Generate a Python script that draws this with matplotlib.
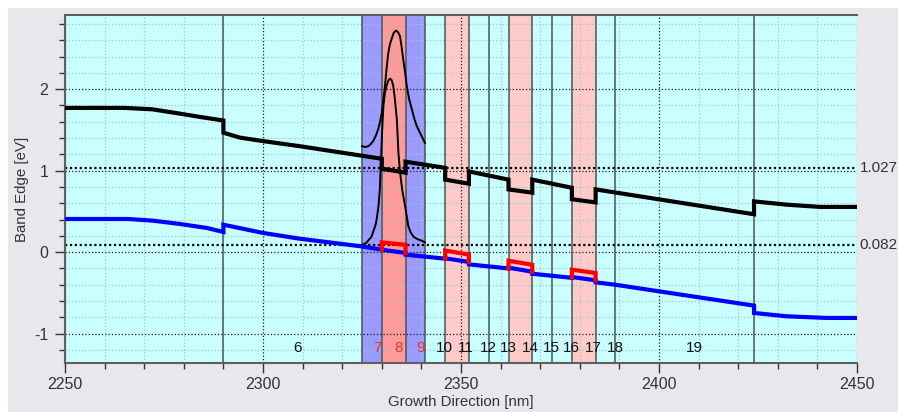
import matplotlib
matplotlib.use("Agg")
import matplotlib.pyplot as plt
from matplotlib.patches import Rectangle
from matplotlib.ticker import MultipleLocator

plt.rcParams['font.family'] = ['Liberation Sans', 'DejaVu Sans']
plt.rcParams['axes.unicode_minus'] = False

# ---- layer structure (nm) ----
boundaries = [2290, 2325, 2330, 2336, 2341, 2346, 2352, 2357, 2362,
              2368, 2373, 2378, 2384, 2389, 2424]
layer_ids = list(range(6, 20))

# ---- conduction band edge (eV) ----
cb_x = [2250, 2265, 2272, 2279, 2284, 2290, 2290, 2294.2, 2300, 2309.3, 2330,
        2330, 2336, 2336, 2346, 2346, 2352, 2352, 2362, 2362, 2368, 2368,
        2378, 2378, 2384, 2384, 2424, 2424, 2432.2, 2440.7, 2450]
cb_y = [1.77, 1.77, 1.753, 1.70, 1.66, 1.615, 1.466, 1.405, 1.363, 1.30, 1.146,
        1.025, 0.975, 1.11, 1.035, 0.89, 0.84, 0.99, 0.89, 0.77, 0.73, 0.89,
        0.79, 0.65, 0.61, 0.77, 0.465, 0.623, 0.583, 0.555, 0.555]

# ---- valence band edge (eV) ----
vb_x = [2250, 2266, 2272.3, 2279, 2285.8, 2290, 2290, 2300, 2309.3, 2325,
        2330, 2336, 2336, 2346, 2346, 2352, 2352, 2362, 2362, 2368, 2368,
        2378, 2378, 2384, 2384, 2389, 2424, 2424, 2432.2, 2442.3, 2450]
vb_y = [0.407, 0.407, 0.386, 0.346, 0.297, 0.248, 0.337, 0.236, 0.165, 0.07,
        0.03, -0.01, -0.03, -0.08, -0.075, -0.12, -0.15, -0.20, -0.19, -0.24, -0.265,
        -0.315, -0.305, -0.345, -0.37, -0.40, -0.656, -0.746, -0.787, -0.807, -0.807]

# ---- valence band inside the wells (eV) ----
well_x0 = [2330, 2346, 2362, 2378]
well_x1 = [2336, 2352, 2368, 2384]
well_base0 = [0.03, -0.08, -0.20, -0.31]
well_top0 = [0.12, 0.02, -0.105, -0.215]
well_top1 = [0.09, -0.03, -0.155, -0.255]
well_base1 = [-0.01, -0.12, -0.24, -0.345]

# ---- probability densities of the ground states (offset by energy) ----
psi_e_x = [2325.0, 2325.8, 2326.6, 2327.3, 2327.9, 2328.5, 2329.1, 2329.6, 2330.0,
           2330.4, 2330.8, 2331.2, 2331.6, 2332.0, 2332.5, 2333.0, 2333.6, 2334.1,
           2334.6, 2335.0, 2335.4, 2335.9, 2336.3, 2336.9, 2337.6, 2338.2, 2338.8,
           2339.5, 2340.1, 2340.5, 2340.9]
psi_e_y = [1.30, 1.29, 1.30, 1.33, 1.37, 1.43, 1.51, 1.61, 1.71,
           1.87, 2.04, 2.25, 2.43, 2.54, 2.62, 2.69, 2.72, 2.70,
           2.65, 2.52, 2.37, 2.20, 2.04, 1.88, 1.75, 1.64, 1.55,
           1.48, 1.42, 1.38, 1.34]
psi_h_x = [2325.0, 2326.0, 2327.4, 2328.4, 2328.7, 2329.2, 2329.5, 2329.8, 2330.1,
           2330.4, 2330.8, 2331.25, 2331.7, 2332.1, 2332.5, 2332.9, 2333.3, 2333.8,
           2334.2, 2334.6, 2335.2, 2335.9, 2336.7, 2337.3, 2338.0, 2339.0, 2340.1,
           2340.9]
psi_h_y = [0.09, 0.11, 0.19, 0.33, 0.40, 0.58, 0.77, 1.14, 1.50,
           1.79, 1.96, 2.05, 2.11, 2.13, 2.11, 2.04, 1.88, 1.63,
           1.22, 0.98, 0.75, 0.56, 0.32, 0.24, 0.19, 0.16, 0.14,
           0.12]

# ---- reference levels (eV) ----
levels = [1.027, 0.082]

# ---- colours ----
layer_colors = {7: '#9a9aff', 8: '#ff9a9a', 9: '#9a9aff',
                11: '#ffcaca', 14: '#ffcaca', 17: '#ffcaca'}
red_labels = {7, 8, 9}
text_col = '#333333'

W, H = 898, 412
fig = plt.figure(figsize=(W / 100, H / 100), dpi=100, facecolor='white')
fig.patches.append(Rectangle((8 / W, 0), 1, (H - 8) / H, transform=fig.transFigure,
                             facecolor='#e9e7ec', edgecolor='none', zorder=-10))
ax = fig.add_axes([65 / W, 49 / H, 792 / W, 348 / H])
ax.set_facecolor('#caffff')
ax.set_xlim(2250, 2450)
ax.set_ylim(-1.36, 2.91)

# layer fills and interfaces
for i, lid in enumerate(layer_ids):
    x0, x1 = boundaries[i], boundaries[i + 1]
    if lid in layer_colors:
        ax.axvspan(x0, x1, color=layer_colors[lid], lw=0, zorder=0.2)
for b in boundaries:
    ax.axvline(b, color='#4a5555', lw=1.1, zorder=1)

# grid
ax.xaxis.set_major_locator(MultipleLocator(50))
ax.xaxis.set_minor_locator(MultipleLocator(10))
ax.yaxis.set_major_locator(MultipleLocator(1))
ax.yaxis.set_minor_locator(MultipleLocator(0.2))
ax.set_axisbelow(True)
ax.grid(which='major', ls=':', color='#1a1a1a', lw=0.9)
ax.grid(which='minor', ls=':', color='#9ccaca', lw=0.9)

# reference levels
for lvl in levels:
    ax.axhline(lvl, ls=(0, (1, 1.2)), color='black', lw=1.6, zorder=2)
    ax.text(1.003, lvl, f'{lvl:.3f}', transform=ax.get_yaxis_transform(),
            ha='left', va='center', fontsize=11, color=text_col)

# densities
ax.plot(psi_e_x, psi_e_y, color='black', lw=1.4, zorder=3)
ax.plot(psi_h_x, psi_h_y, color='black', lw=1.4, zorder=3)

# band edges
ax.plot(cb_x, cb_y, color='black', lw=3, zorder=4, solid_joinstyle='miter')
ax.plot(vb_x, vb_y, color='#0000ff', lw=3, zorder=4, solid_joinstyle='miter')
for x0, x1, b0, t0, t1, b1 in zip(well_x0, well_x1, well_base0, well_top0,
                                   well_top1, well_base1):
    ax.plot([x0, x0, x1, x1], [b0, t0, t1, b1], color='#ff0000', lw=3, zorder=5,
            solid_joinstyle='miter')

# layer numbers
for i, lid in enumerate(layer_ids):
    cx = 0.5 * (boundaries[i] + boundaries[i + 1])
    ax.annotate(str(lid), xy=(cx, 0.043), xycoords=('data', 'axes fraction'),
                xytext=(1, 0), textcoords='offset pixels', ha='left', va='center',
                fontsize=11, color='#e8322e' if lid in red_labels else '#111111',
                zorder=6)

# axes styling
for side in ('left', 'top', 'bottom'):
    ax.spines[side].set_color('#5f5f5f')
    ax.spines[side].set_linewidth(1.5)
ax.spines['right'].set_visible(False)
ax.tick_params(which='major', length=7, width=1, color='#333333', labelsize=11.5,
               labelcolor=text_col)
ax.tick_params(which='minor', length=4, width=1, color='#333333')
ax.tick_params(axis='y', which='major', pad=5)
ax.tick_params(axis='x', which='major', pad=3)
ax.set_xticks([2250, 2300, 2350, 2400, 2450])
ax.set_xticklabels(['2250', '2300', '2350', '2400', '2450'])
ax.set_yticks([-1, 0, 1, 2])
ax.set_yticklabels(['-1', '0', '1', '2'])
ax.set_xlabel('Growth Direction [nm]', fontsize=10.8, color=text_col, labelpad=2)
ax.set_ylabel('Band Edge [eV]', fontsize=10.8, color=text_col, labelpad=4)

fig.savefig('out.png', dpi=100, facecolor=fig.get_facecolor())
